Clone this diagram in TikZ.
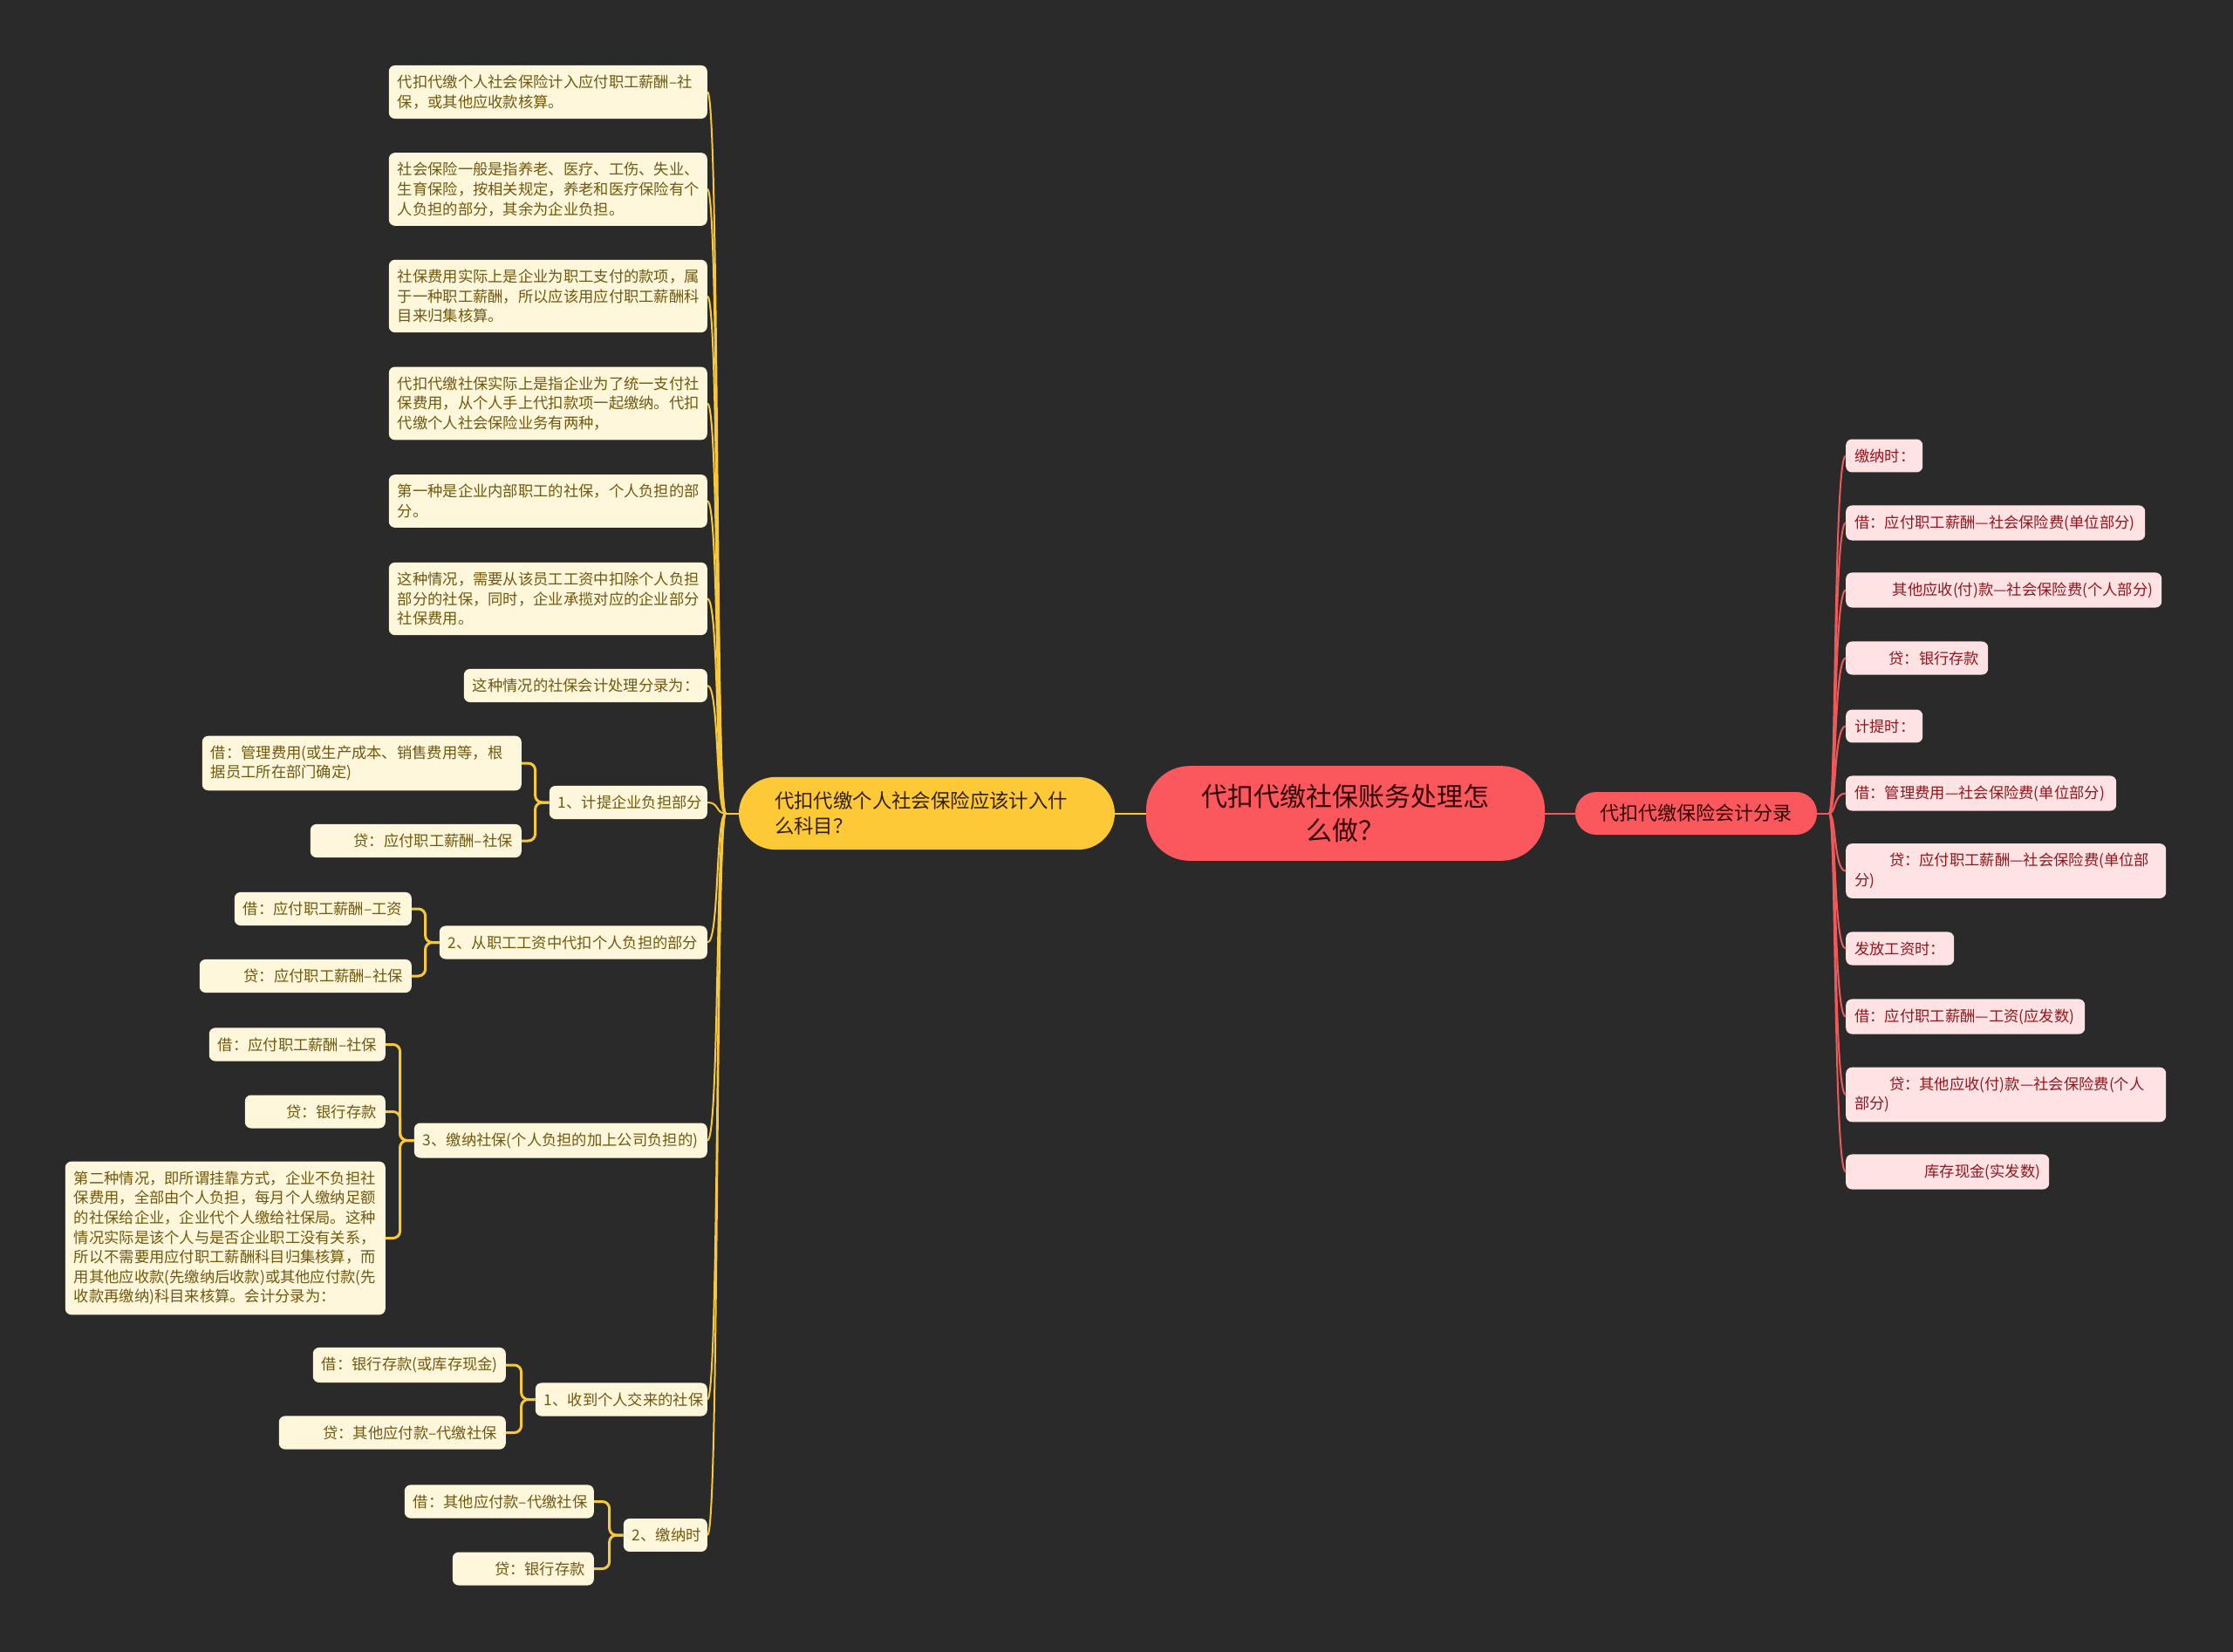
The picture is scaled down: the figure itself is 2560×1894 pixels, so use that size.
\documentclass[tikz,border=0pt]{standalone}
\usepackage{fontspec}
\setmainfont{Noto Sans CJK SC}
\definecolor{bgc}{RGB}{42,42,42}
\definecolor{leafc}{RGB}{255,247,220}
\definecolor{leaftxt}{RGB}{112,88,14}
\definecolor{ylinec}{RGB}{247,200,60}
\definecolor{ynodec}{RGB}{253,201,55}
\definecolor{rootc}{RGB}{250,88,92}
\definecolor{pinkc}{RGB}{255,226,228}
\definecolor{pinktxt}{RGB}{145,22,28}
\definecolor{rlinec}{RGB}{240,88,90}
\begin{document}
\begin{tikzpicture}[x=1pt,y=-1pt,
    leaf/.style={fill=leafc, text=leaftxt, rounded corners=7pt, inner xsep=10pt, inner ysep=11pt,
        font=\fontsize{17.3}{22.6}\selectfont, align=left, anchor=east},
    rleaf/.style={leaf, align=right},
    pleaf/.style={fill=pinkc, text=pinktxt, rounded corners=7pt, inner xsep=10pt, inner ysep=11pt,
        font=\fontsize{17.3}{22.6}\selectfont, align=left, anchor=west},
    yline/.style={draw=ylinec, line width=2pt},
    ybrace/.style={draw=ylinec, line width=3pt, rounded corners=8pt},
    rline/.style={draw=rlinec, line width=2pt}]
    \useasboundingbox[fill=bgc] (0,0) rectangle (2560,1894);

    % centre
    \node[fill=rootc, text=black!80!red, rounded corners=50pt, text width=380pt, inner xsep=38.5pt, inner ysep=21pt,
        align=center, font=\fontsize{30}{39}\selectfont] (root) at (1542.5,932.5) {代扣代缴社保账务处理怎\\么做？};
    \node[fill=ynodec, text=black!75!brown, rounded corners=42pt, text width=349pt, inner xsep=41pt, inner ysep=16.5pt,
        align=left, font=\fontsize{22.4}{29.5}\selectfont] (yq) at (1062.5,932.5) {代扣代缴个人社会保险应该计入什\\么科目？};
    \node[fill=rootc, text=black!80!red, rounded corners=24pt, minimum width=277pt, minimum height=49pt,
        font=\fontsize{22}{28}\selectfont] (entry) at (1944.5,932.5) {代扣代缴保险会计分录};

    % left side
    \node[leaf, text width=345pt] (l1) at (811,105.5) {代扣代缴个人社会保险计入应付职工薪酬–社\\保，或其他应收款核算。};
    \node[leaf, text width=345pt] (l2) at (811,217) {社会保险一般是指养老、医疗、工伤、失业、\\生育保险，按相关规定，养老和医疗保险有个\\人负担的部分，其余为企业负担。};
    \node[leaf, text width=345pt] (l3) at (811,339.5) {社保费用实际上是企业为职工支付的款项，属\\于一种职工薪酬，所以应该用应付职工薪酬科\\目来归集核算。};
    \node[leaf, text width=345pt] (l4) at (811,462.5) {代扣代缴社保实际上是指企业为了统一支付社\\保费用，从个人手上代扣款项一起缴纳。代扣\\代缴个人社会保险业务有两种，};
    \node[leaf, text width=345pt] (l5) at (811,574.5) {第一种是企业内部职工的社保，个人负担的部\\分。};
    \node[leaf, text width=345pt] (l6) at (811,686.5) {这种情况，需要从该员工工资中扣除个人负担\\部分的社保，同时，企业承揽对应的企业部分\\社保费用。};
    \node[leaf, text width=259pt] (l7) at (811,786) {这种情况的社保会计处理分录为：};
    \node[leaf, text width=161pt] (l8) at (811,920) {1、计提企业负担部分};
    \node[leaf, text width=346pt] (l8a) at (598,875) {借：管理费用(或生产成本、销售费用等，根\\据员工所在部门确定)};
    \node[rleaf, text width=222pt] (l8b) at (598,964) {\mbox{贷：应付职工薪酬–社保}};
    \node[leaf, text width=287pt] (l9) at (811,1080.5) {2、从职工工资中代扣个人负担的部分};
    \node[leaf, text width=183pt] (l9a) at (472,1042) {\mbox{借：应付职工薪酬–工资}};
    \node[rleaf, text width=223pt] (l9b) at (472,1119) {\mbox{贷：应付职工薪酬–社保}};
    \node[leaf, text width=316pt] (l10) at (811,1307.5) {3、缴纳社保(个人负担的加上公司负担的)};
    \node[leaf, text width=182pt] (l10a) at (442,1197.5) {\mbox{借：应付职工薪酬–社保}};
    \node[rleaf, text width=141pt] (l10b) at (442,1274.5) {贷：银行存款};
    \node[leaf, text width=347pt] (l10c) at (442,1419.5) {第二种情况，即所谓挂靠方式，企业不负担社\\保费用，全部由个人负担，每月个人缴纳足额\\的社保给企业，企业代个人缴给社保局。这种\\情况实际是该个人与是否企业职工没有关系，\\所以不需要用应付职工薪酬科目归集核算，而\\用其他应收款(先缴纳后收款)或其他应付款(先\\收款再缴纳)科目来核算。会计分录为：};
    \node[leaf, text width=177pt] (l11) at (811,1604.5) {1、收到个人交来的社保};
    \node[leaf, text width=201pt] (l11a) at (580,1565) {借：银行存款(或库存现金)};
    \node[rleaf, text width=240pt] (l11b) at (580,1642.5) {\mbox{贷：其他应付款–代缴社保}};
    \node[leaf, text width=76pt] (l12) at (811,1760) {2、缴纳时};
    \node[leaf, text width=197pt] (l12a) at (681,1721.5) {\mbox{借：其他应付款–代缴社保}};
    \node[rleaf, text width=142pt] (l12b) at (681,1798.5) {贷：银行存款};

    % right side
    \node[pleaf, text width=68pt] (r1) at (2116,522.5) {缴纳时：};
    \node[pleaf, text width=323pt] (r2) at (2116,599.5) {借：应付职工薪酬—社会保险费(单位部分)};
    \node[pleaf, text width=342pt, align=right] (r3) at (2116,676.5) {其他应收(付)款—社会保险费(个人部分)};
    \node[pleaf, text width=143pt, align=right] (r4) at (2116,754.5) {贷：银行存款};
    \node[pleaf, text width=68pt] (r5) at (2116,832.5) {计提时：};
    \node[pleaf, text width=290pt] (r6) at (2116,909.5) {借：管理费用—社会保险费(单位部分)};
    \node[pleaf, text width=347pt] (r7) at (2116,998.5) {\hspace*{2.3em}贷：应付职工薪酬—社会保险费(单位部\\分)};
    \node[pleaf, text width=104pt] (r8) at (2116,1087.5) {发放工资时：};
    \node[pleaf, text width=254pt] (r9) at (2116,1165.5) {借：应付职工薪酬—工资(应发数)};
    \node[pleaf, text width=347pt] (r10) at (2116,1255) {\hspace*{2.3em}贷：其他应收(付)款—社会保险费(个人\\部分)};
    \node[pleaf, text width=213pt, align=right] (r11) at (2116,1343.5) {库存现金(实发数)};

    % connectors
    \draw[yline] (yq) -- (root);
    \draw[rline] (root) -- (entry);
    \coordinate (ltrunk) at (832,932.5);
    \coordinate (rtrunk) at (2097,932.5);
    \draw[yline] (yq.west) -- (ltrunk);
    \draw[rline] (entry.east) -- (rtrunk);
    \foreach \i in {1,...,12}
        \draw[yline] (ltrunk) .. controls +(-12,0) and +(14,0) .. (l\i.east);
    \foreach \i in {1,...,11}
        \draw[rline] (rtrunk) .. controls +(8,0) and +(-14,0) .. (r\i.west);
    \foreach \p/\c in {l8/l8a,l8/l8b,l9/l9a,l9/l9b,l10/l10a,l10/l10b,l10/l10c,l11/l11a,l11/l11b,l12/l12a,l12/l12b}
        \draw[ybrace] (\p.west) -- ++(-16,0) |- (\c.east);
\end{tikzpicture}
\end{document}
